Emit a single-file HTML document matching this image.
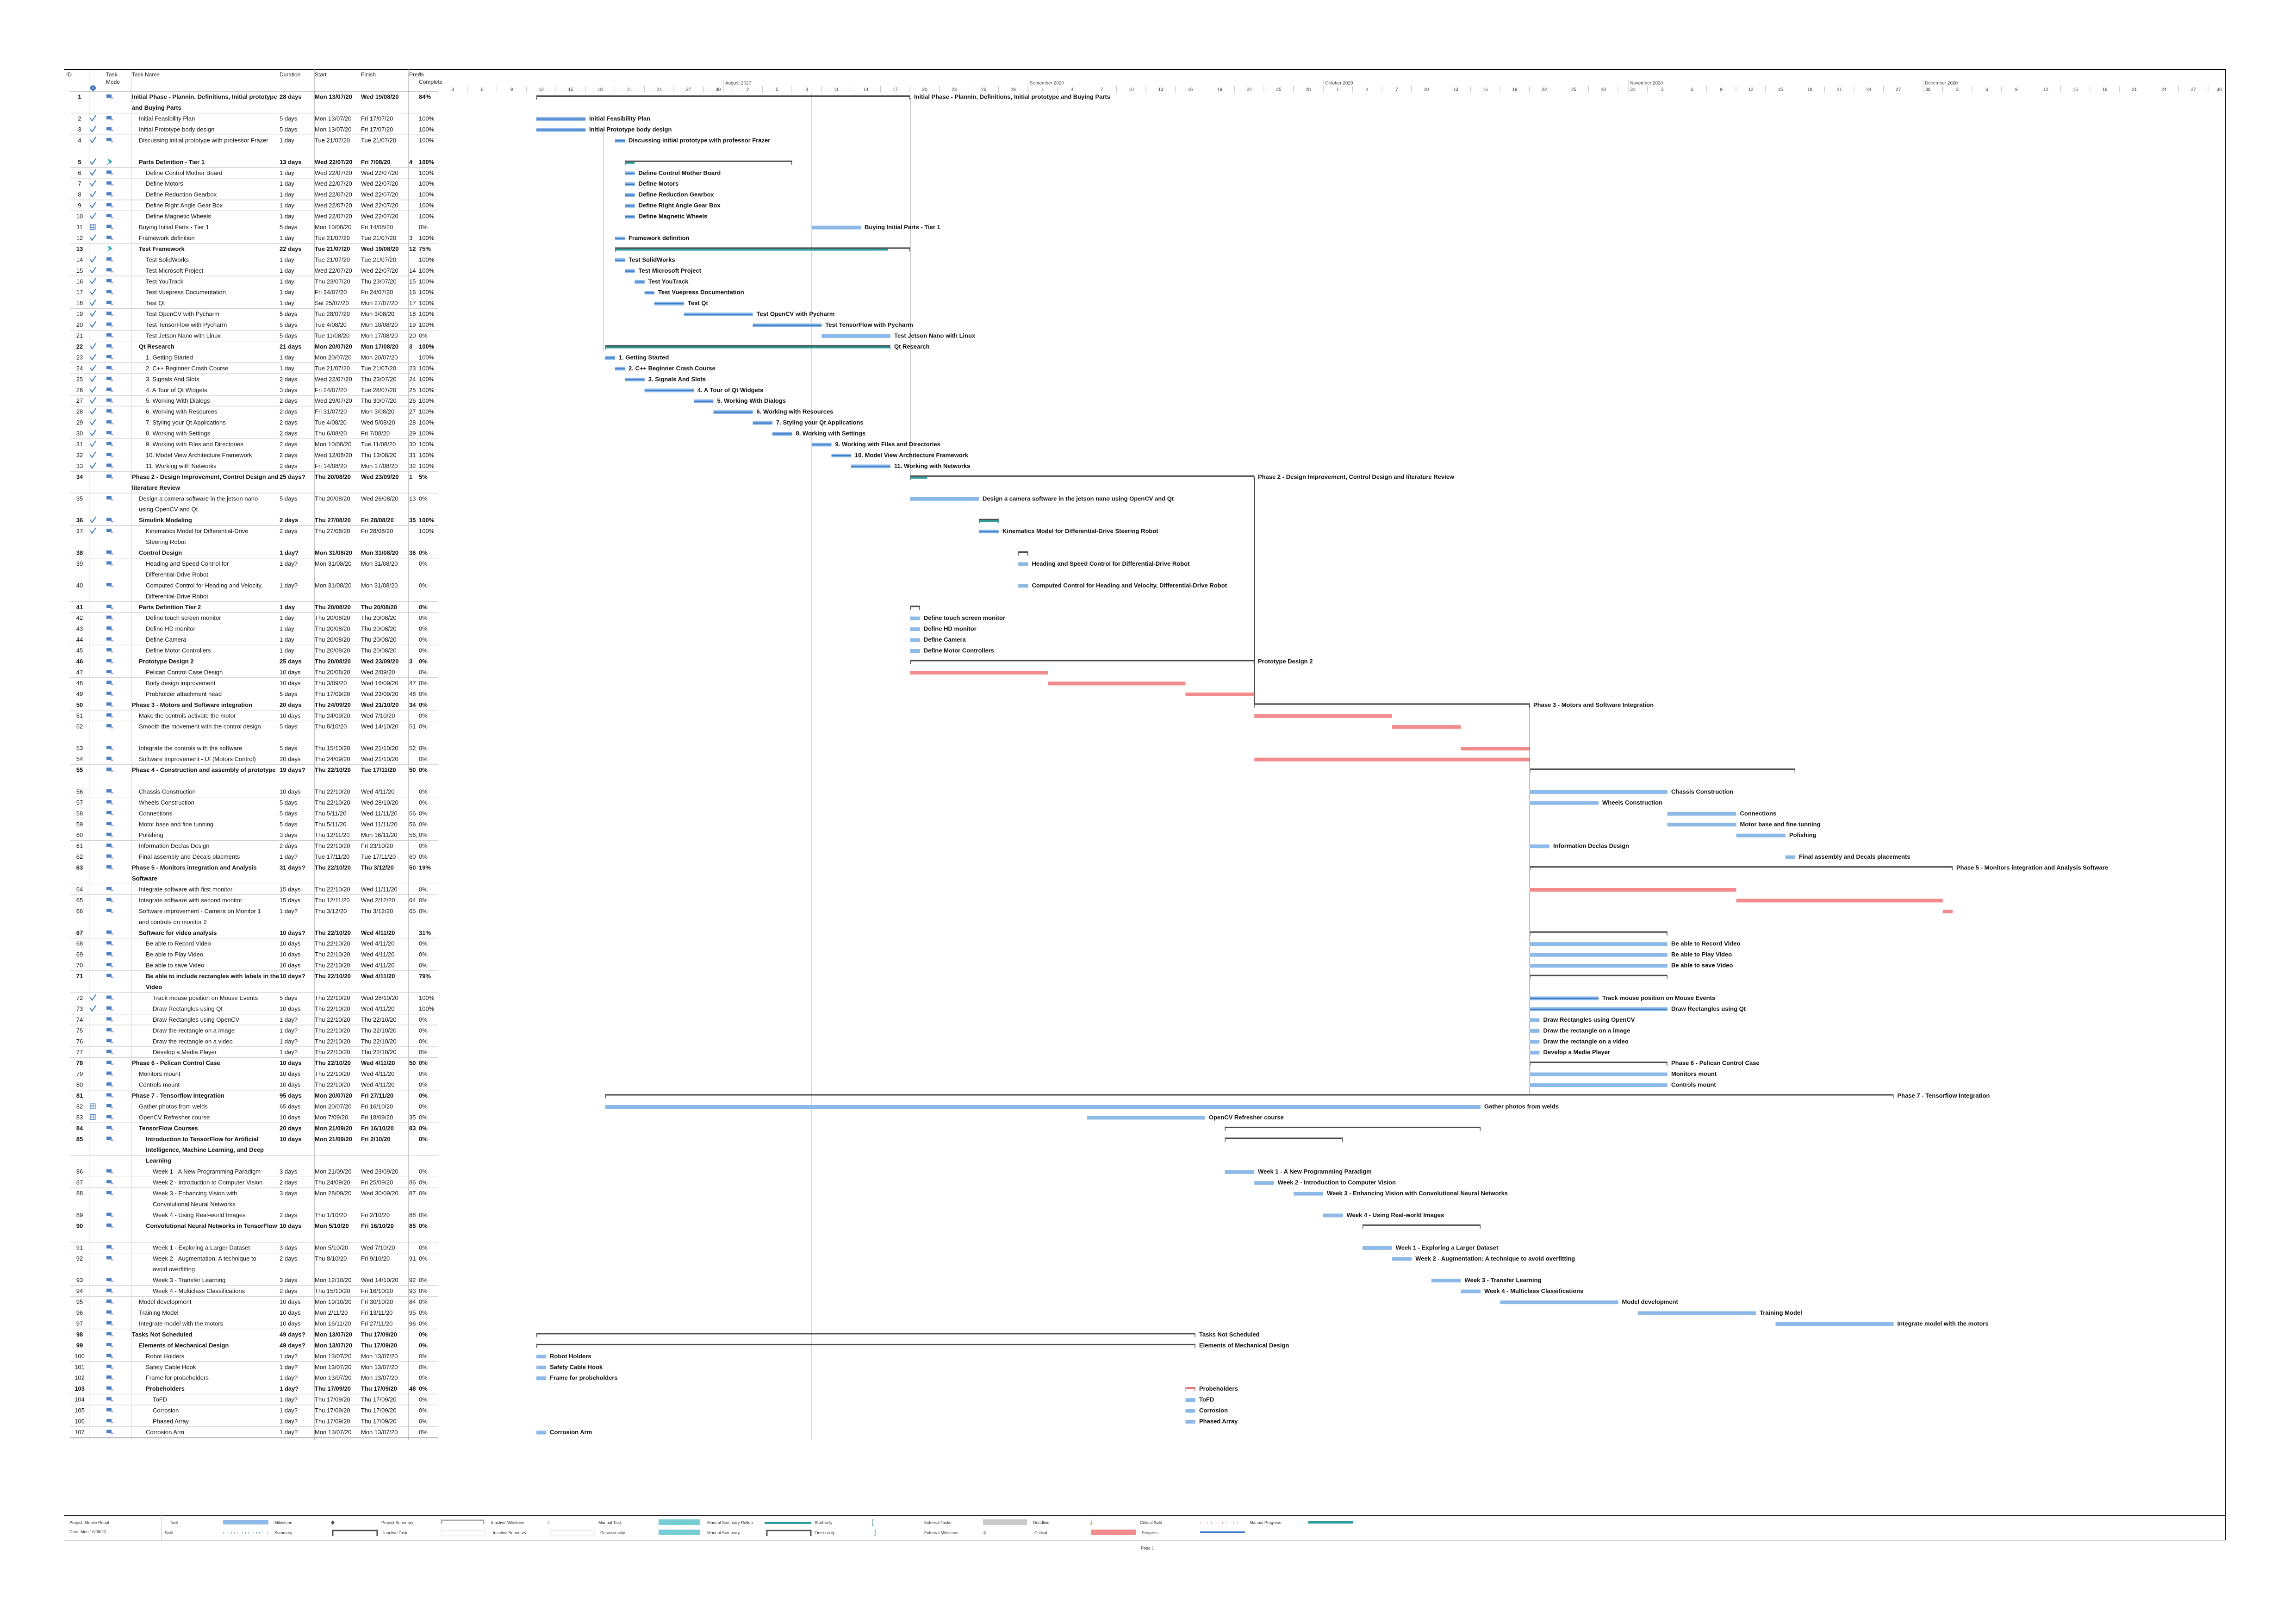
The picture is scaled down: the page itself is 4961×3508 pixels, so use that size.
<!DOCTYPE html>
<html><head><meta charset="utf-8"><style>
html,body{margin:0;padding:0;background:#fff}
svg{display:block}
text{font-family:"Liberation Sans Narrow","Liberation Sans",sans-serif;font-size:13px;fill:#111;dominant-baseline:central}
.B text{font-weight:bold}
.lb{font-weight:bold}
.hd{font-size:12px;fill:#222}
.tl{font-size:10px;fill:#444;text-anchor:middle}
.ml{font-size:10px;fill:#444}
.lg{font-size:9px;fill:#333}
.tb{fill:#8db9e8}.pg{fill:#3d7cc9}.cr{fill:#f28b8b}.sb{fill:#4d4d4d}.sp{fill:#2f9d9d}
.id{text-anchor:middle}
</style></head><body>
<svg width="4961" height="3508" viewBox="0 0 4961 3508" xmlns="http://www.w3.org/2000/svg">
<defs>
<g id="md"><rect x="-7" y="-5" width="11" height="7" fill="#4f7fbf"/><path d="M2 1 L5 4 L8 1" stroke="#4f7fbf" stroke-width="1.3" fill="none"/></g>
<path id="ck" d="M-6 -1 L-2 5 L6 -7" stroke="#3f74b8" stroke-width="2" fill="none"/>
<path id="pn" d="M-5 6 L-1 1 M-3 -6 L5 -1 L0 3 Z" fill="#2ab0b0" stroke="#2ab0b0" stroke-width="1.2"/>
<g id="cl"><rect x="-6" y="-6" width="11" height="11" fill="#fff" stroke="#3f74b8"/><path d="M-6 -2.5 H5 M-6 1 H5 M-2.5 -6 V5 M1 -6 V5" stroke="#3f74b8" stroke-width="0.8"/></g>
</defs>

<!-- frame -->
<rect x="139" y="149" width="4670" height="2" fill="#000"/>
<rect x="4808" y="150" width="1.5" height="3178" fill="#000"/>
<rect x="139" y="3272" width="4670" height="2" fill="#000"/>
<rect x="139" y="3327" width="4670" height="1" fill="#ccc"/>
<rect x="348" y="3273" width="1" height="54" fill="#ccc"/>

<!-- table grid -->
<g fill="#c4c4c4">
<rect x="192" y="150" width="1" height="2960" fill="#888"/>
<rect x="283" y="150" width="1" height="2960"/>
<rect x="679" y="150" width="1" height="2960"/>
<rect x="882" y="150" width="1" height="2960"/>
<rect x="946" y="150" width="1" height="2960"/>
<rect x="151" y="3105" width="795" height="1.5" fill="#999"/>
</g>
<path stroke="#cfcfcf" stroke-width="1.2" d="M151 244.3H946 M151 291.2H946 M151 361.5H946 M151 384.9H946 M151 431.9H946 M151 455.3H946 M151 525.7H946 M151 596H946 M151 666.4H946 M151 713.3H946 M151 736.7H946 M151 783.6H946 M151 807.1H946 M151 854H946 M151 877.4H946 M151 947.8H946 M151 1018.2H946 M151 1065.1H946 M151 1135.4H946 M151 1205.7H946 M151 1299.6H946 M151 1323H946 M151 1393.3H946 M151 1463.7H946 M151 1534H946 M151 1557.5H946 M151 1651.3H946 M151 1721.6H946 M151 1815.5H946 M151 1909.3H946 M151 1932.7H946 M151 2026.5H946 M151 2096.9H946 M151 2143.8H946 M151 2190.6H946 M151 2214.1H946 M151 2261H946 M151 2284.5H946 M151 2354.8H946 M151 2425.2H946 M151 2495.5H946 M151 2542.4H946 M151 2565.9H946 M151 2683.1H946 M151 2706.6H946 M151 2776.9H946 M151 2800.3H946 M151 2870.7H946 M151 2941H946 M151 3011.4H946 M151 3034.8H946 M151 3081.8H946"/>
<path stroke="#888" stroke-width="1" d="M151 197H946"/>

<!-- table header -->
<g class="hd">
<text x="143" y="161" class="hd">ID</text>
<text x="229" y="161" class="hd">Task</text><text x="229" y="177" class="hd">Mode</text>
<text x="285" y="161" class="hd">Task Name</text>
<text x="604" y="161" class="hd">Duration</text>
<text x="680" y="161" class="hd">Start</text>
<text x="780" y="161" class="hd">Finish</text>
<text x="884" y="161" class="hd">Pred</text>
<text x="905" y="161" class="hd">%</text><text x="905" y="177" class="hd">Complete</text>
</g>
<circle cx="201" cy="190" r="6" fill="#3f74b8"/><text x="201" y="190" style="font-size:10px;fill:#fff;font-weight:bold;text-anchor:middle">i</text>

<!-- timescale -->
<text x="1567" y="180" class="ml">August 2020</text>
<text x="2225" y="180" class="ml">September 2020</text>
<text x="2863" y="180" class="ml">October 2020</text>
<text x="3522" y="180" class="ml">November 2020</text>
<text x="4159" y="180" class="ml">December 2020</text>
<path stroke="#aaa" stroke-width="1" d="M1562.75 172V200 M2221.5 172V200 M2859 172V200 M3518 172V200 M4155.25 172V200"/>
<path stroke="#bbb" stroke-width="1" d="M1009.75 186V200M1073.5 186V200M1137.25 186V200M1201 186V200M1264.75 186V200M1328.5 186V200M1392.25 186V200M1456 186V200M1519.75 186V200M1583.5 186V200M1647.25 186V200M1711 186V200M1774.75 186V200M1838.5 186V200M1902.25 186V200M1966 186V200M2029.75 186V200M2093.5 186V200M2157.25 186V200M2221 186V200M2284.75 186V200M2348.5 186V200M2412.25 186V200M2476 186V200M2539.75 186V200M2603.5 186V200M2667.25 186V200M2731 186V200M2794.75 186V200M2858.5 186V200M2922.25 186V200M2986 186V200M3049.75 186V200M3113.5 186V200M3177.25 186V200M3241 186V200M3304.75 186V200M3368.5 186V200M3432.25 186V200M3496 186V200M3559.75 186V200M3623.5 186V200M3687.25 186V200M3751 186V200M3814.75 186V200M3878.5 186V200M3942.25 186V200M4006 186V200M4069.75 186V200M4133.5 186V200M4197.25 186V200M4261 186V200M4324.75 186V200M4388.5 186V200M4452.25 186V200M4516 186V200M4579.75 186V200M4643.5 186V200M4707.25 186V200M4771 186V200"/>
<g>
<text class="tl" x="978" y="194">3</text><text class="tl" x="1041.75" y="194">6</text><text class="tl" x="1105.5" y="194">9</text><text class="tl" x="1169.25" y="194">12</text><text class="tl" x="1233" y="194">15</text><text class="tl" x="1296.75" y="194">18</text><text class="tl" x="1360.5" y="194">21</text><text class="tl" x="1424.25" y="194">24</text><text class="tl" x="1488" y="194">27</text><text class="tl" x="1551.75" y="194">30</text>
<text class="tl" x="1615.5" y="194">2</text><text class="tl" x="1679.25" y="194">5</text><text class="tl" x="1743" y="194">8</text><text class="tl" x="1806.75" y="194">11</text><text class="tl" x="1870.5" y="194">14</text><text class="tl" x="1934.25" y="194">17</text><text class="tl" x="1998" y="194">20</text><text class="tl" x="2061.75" y="194">23</text><text class="tl" x="2125.5" y="194">26</text><text class="tl" x="2189.25" y="194">29</text>
<text class="tl" x="2253" y="194">1</text><text class="tl" x="2316.75" y="194">4</text><text class="tl" x="2380.5" y="194">7</text><text class="tl" x="2444.25" y="194">10</text><text class="tl" x="2508" y="194">13</text><text class="tl" x="2571.75" y="194">16</text><text class="tl" x="2635.5" y="194">19</text><text class="tl" x="2699.25" y="194">22</text><text class="tl" x="2763" y="194">25</text><text class="tl" x="2826.75" y="194">28</text>
<text class="tl" x="2890.5" y="194">1</text><text class="tl" x="2954.25" y="194">4</text><text class="tl" x="3018" y="194">7</text><text class="tl" x="3081.75" y="194">10</text><text class="tl" x="3145.5" y="194">13</text><text class="tl" x="3209.25" y="194">16</text><text class="tl" x="3273" y="194">19</text><text class="tl" x="3336.75" y="194">22</text><text class="tl" x="3400.5" y="194">25</text><text class="tl" x="3464.25" y="194">28</text><text class="tl" x="3528" y="194">31</text>
<text class="tl" x="3591.75" y="194">3</text><text class="tl" x="3655.5" y="194">6</text><text class="tl" x="3719.25" y="194">9</text><text class="tl" x="3783" y="194">12</text><text class="tl" x="3846.75" y="194">15</text><text class="tl" x="3910.5" y="194">18</text><text class="tl" x="3974.25" y="194">21</text><text class="tl" x="4038" y="194">24</text><text class="tl" x="4101.75" y="194">27</text><text class="tl" x="4165.5" y="194">30</text>
<text class="tl" x="4229.25" y="194">3</text><text class="tl" x="4293" y="194">6</text><text class="tl" x="4356.75" y="194">9</text><text class="tl" x="4420.5" y="194">12</text><text class="tl" x="4484.25" y="194">15</text><text class="tl" x="4548" y="194">18</text><text class="tl" x="4611.75" y="194">21</text><text class="tl" x="4675.5" y="194">24</text><text class="tl" x="4739.25" y="194">27</text><text class="tl" x="4795" y="194">30</text>
</g>

<!-- vertical lines in chart -->
<rect x="1753.5" y="200" width="1" height="2910" fill="#8cc07a"/>
<rect x="1966.5" y="212" width="1" height="818" fill="#999"/>
<rect x="1304" y="285" width="1" height="475" fill="#aac"/>
<rect x="2710" y="1030" width="1" height="492" fill="#333"/>
<rect x="3305" y="1523" width="1" height="843" fill="#333"/>

<!-- ROWS -->
<g class="B" transform="translate(0,209.1)"><text class="id" x="172">1</text><use href="#md" x="237"/><text x="285">Initial Phase - Plannin, Definitions, Initial prototype</text><text x="285" y="23.45">and Buying Parts</text><text x="604">28 days</text><text x="680">Mon 13/07/20</text><text x="780">Wed 19/08/20</text><text x="905">84%</text>
<rect class="sb" x="1159" y="-3" width="807.5" height="3"/><rect class="sb" x="1159" y="-3" width="1.5" height="9"/><rect class="sb" x="1965" y="-3" width="1.5" height="9"/><text class="lb" x="1975">Initial Phase - Plannin, Definitions, Initial prototype and Buying Parts</text></g>

<g transform="translate(0,256)"><text class="id" x="172">2</text><use href="#ck" x="201"/><use href="#md" x="237"/><text x="300">Initial Feasibility Plan</text><text x="604">5 days</text><text x="680">Mon 13/07/20</text><text x="780">Fri 17/07/20</text><text x="905">100%</text><rect class="tb" x="1159" y="-3" width="106.25" height="8"/><rect class="pg" x="1159" y="0" width="106.25" height="2.5"/><text class="lb" x="1273">Initial Feasibility Plan</text></g>
<g transform="translate(0,279.5)"><text class="id" x="172">3</text><use href="#ck" x="201"/><use href="#md" x="237"/><text x="300">Initial Prototype body design</text><text x="604">5 days</text><text x="680">Mon 13/07/20</text><text x="780">Fri 17/07/20</text><text x="905">100%</text><rect class="tb" x="1159" y="-3" width="106.25" height="8"/><rect class="pg" x="1159" y="0" width="106.25" height="2.5"/><text class="lb" x="1273">Initial Prototype body design</text></g>
<g transform="translate(0,302.9)"><text class="id" x="172">4</text><use href="#ck" x="201"/><use href="#md" x="237"/><text x="300">Discussing initial prototype with professor Frazer</text><text x="604">1 day</text><text x="680">Tue 21/07/20</text><text x="780">Tue 21/07/20</text><text x="905">100%</text><rect class="tb" x="1329" y="-3" width="21.25" height="8"/><rect class="pg" x="1329" y="0" width="21.25" height="2.5"/><text class="lb" x="1358">Discussing initial prototype with professor Frazer</text></g>
<g class="B" transform="translate(0,349.8)"><text class="id" x="172">5</text><use href="#ck" x="201"/><use href="#pn" x="237"/><text x="300">Parts Definition - Tier 1</text><text x="604">13 days</text><text x="680">Wed 22/07/20</text><text x="780">Fri 7/08/20</text><text x="884">4</text><text x="905">100%</text><rect class="sb" x="1350.25" y="-3" width="361.25" height="3"/><rect class="sb" x="1350.25" y="-3" width="1.5" height="9"/><rect class="sb" x="1710" y="-3" width="1.5" height="9"/><rect class="sp" x="1350.25" y="0" width="21" height="4"/></g>
<g transform="translate(0,373.3)"><text class="id" x="172">6</text><use href="#ck" x="201"/><use href="#md" x="237"/><text x="315">Define Control Mother Board</text><text x="604">1 day</text><text x="680">Wed 22/07/20</text><text x="780">Wed 22/07/20</text><text x="905">100%</text><rect class="tb" x="1350.25" y="-3" width="21.25" height="8"/><rect class="pg" x="1350.25" y="0" width="21.25" height="2.5"/><text class="lb" x="1379.5">Define Control Mother Board</text></g>
<g transform="translate(0,396.7)"><text class="id" x="172">7</text><use href="#ck" x="201"/><use href="#md" x="237"/><text x="315">Define Motors</text><text x="604">1 day</text><text x="680">Wed 22/07/20</text><text x="780">Wed 22/07/20</text><text x="905">100%</text><rect class="tb" x="1350.25" y="-3" width="21.25" height="8"/><rect class="pg" x="1350.25" y="0" width="21.25" height="2.5"/><text class="lb" x="1379.5">Define Motors</text></g>
<g transform="translate(0,420.2)"><text class="id" x="172">8</text><use href="#ck" x="201"/><use href="#md" x="237"/><text x="315">Define Reduction Gearbox</text><text x="604">1 day</text><text x="680">Wed 22/07/20</text><text x="780">Wed 22/07/20</text><text x="905">100%</text><rect class="tb" x="1350.25" y="-3" width="21.25" height="8"/><rect class="pg" x="1350.25" y="0" width="21.25" height="2.5"/><text class="lb" x="1379.5">Define Reduction Gearbox</text></g>
<g transform="translate(0,443.6)"><text class="id" x="172">9</text><use href="#ck" x="201"/><use href="#md" x="237"/><text x="315">Define Right Angle Gear Box</text><text x="604">1 day</text><text x="680">Wed 22/07/20</text><text x="780">Wed 22/07/20</text><text x="905">100%</text><rect class="tb" x="1350.25" y="-3" width="21.25" height="8"/><rect class="pg" x="1350.25" y="0" width="21.25" height="2.5"/><text class="lb" x="1379.5">Define Right Angle Gear Box</text></g>
<g transform="translate(0,467.1)"><text class="id" x="172">10</text><use href="#ck" x="201"/><use href="#md" x="237"/><text x="315">Define Magnetic Wheels</text><text x="604">1 day</text><text x="680">Wed 22/07/20</text><text x="780">Wed 22/07/20</text><text x="905">100%</text><rect class="tb" x="1350.25" y="-3" width="21.25" height="8"/><rect class="pg" x="1350.25" y="0" width="21.25" height="2.5"/><text class="lb" x="1379.5">Define Magnetic Wheels</text></g>
<g transform="translate(0,490.5)"><text class="id" x="172">11</text><use href="#cl" x="201"/><use href="#md" x="237"/><text x="300">Buying Initial Parts - Tier 1</text><text x="604">5 days</text><text x="680">Mon 10/08/20</text><text x="780">Fri 14/08/20</text><text x="905">0%</text><rect class="tb" x="1754" y="-3" width="106.25" height="8"/><text class="lb" x="1868">Buying Initial Parts - Tier 1</text></g>
<g transform="translate(0,514)"><text class="id" x="172">12</text><use href="#ck" x="201"/><use href="#md" x="237"/><text x="300">Framework definition</text><text x="604">1 day</text><text x="680">Tue 21/07/20</text><text x="780">Tue 21/07/20</text><text x="884">3</text><text x="905">100%</text><rect class="tb" x="1329" y="-3" width="21.25" height="8"/><rect class="pg" x="1329" y="0" width="21.25" height="2.5"/><text class="lb" x="1358">Framework definition</text></g>
<g class="B" transform="translate(0,537.4)"><text class="id" x="172">13</text><use href="#pn" x="237"/><text x="300">Test Framework</text><text x="604">22 days</text><text x="680">Tue 21/07/20</text><text x="780">Wed 19/08/20</text><text x="884">12</text><text x="905">75%</text><rect class="sb" x="1329" y="-3" width="637.5" height="3"/><rect class="sb" x="1329" y="-3" width="1.5" height="9"/><rect class="sb" x="1965" y="-3" width="1.5" height="9"/><rect class="sp" x="1329" y="0" width="590" height="4"/></g>
<g transform="translate(0,560.9)"><text class="id" x="172">14</text><use href="#ck" x="201"/><use href="#md" x="237"/><text x="315">Test SolidWorks</text><text x="604">1 day</text><text x="680">Tue 21/07/20</text><text x="780">Tue 21/07/20</text><text x="905">100%</text><rect class="tb" x="1329" y="-3" width="21.25" height="8"/><rect class="pg" x="1329" y="0" width="21.25" height="2.5"/><text class="lb" x="1358">Test SolidWorks</text></g>
<g transform="translate(0,584.3)"><text class="id" x="172">15</text><use href="#ck" x="201"/><use href="#md" x="237"/><text x="315">Test Microsoft Project</text><text x="604">1 day</text><text x="680">Wed 22/07/20</text><text x="780">Wed 22/07/20</text><text x="884">14</text><text x="905">100%</text><rect class="tb" x="1350.25" y="-3" width="21.25" height="8"/><rect class="pg" x="1350.25" y="0" width="21.25" height="2.5"/><text class="lb" x="1379.5">Test Microsoft Project</text></g>
<g transform="translate(0,607.8)"><text class="id" x="172">16</text><use href="#ck" x="201"/><use href="#md" x="237"/><text x="315">Test YouTrack</text><text x="604">1 day</text><text x="680">Thu 23/07/20</text><text x="780">Thu 23/07/20</text><text x="884">15</text><text x="905">100%</text><rect class="tb" x="1371.5" y="-3" width="21.25" height="8"/><rect class="pg" x="1371.5" y="0" width="21.25" height="2.5"/><text class="lb" x="1400.75">Test YouTrack</text></g>
<g transform="translate(0,631.2)"><text class="id" x="172">17</text><use href="#ck" x="201"/><use href="#md" x="237"/><text x="315">Test Vuepress Documentation</text><text x="604">1 day</text><text x="680">Fri 24/07/20</text><text x="780">Fri 24/07/20</text><text x="884">16</text><text x="905">100%</text><rect class="tb" x="1392.75" y="-3" width="21.25" height="8"/><rect class="pg" x="1392.75" y="0" width="21.25" height="2.5"/><text class="lb" x="1422">Test Vuepress Documentation</text></g>
<g transform="translate(0,654.7)"><text class="id" x="172">18</text><use href="#ck" x="201"/><use href="#md" x="237"/><text x="315">Test Qt</text><text x="604">1 day</text><text x="680">Sat 25/07/20</text><text x="780">Mon 27/07/20</text><text x="884">17</text><text x="905">100%</text><rect class="tb" x="1414" y="-3" width="63.75" height="8"/><rect class="pg" x="1414" y="0" width="63.75" height="2.5"/><text class="lb" x="1486">Test Qt</text></g>
<g transform="translate(0,678.1)"><text class="id" x="172">19</text><use href="#ck" x="201"/><use href="#md" x="237"/><text x="315">Test OpenCV with Pycharm</text><text x="604">5 days</text><text x="680">Tue 28/07/20</text><text x="780">Mon 3/08/20</text><text x="884">18</text><text x="905">100%</text><rect class="tb" x="1477.75" y="-3" width="148.75" height="8"/><rect class="pg" x="1477.75" y="0" width="148.75" height="2.5"/><text class="lb" x="1634.5">Test OpenCV with Pycharm</text></g>
<g transform="translate(0,701.6)"><text class="id" x="172">20</text><use href="#ck" x="201"/><use href="#md" x="237"/><text x="315">Test TensorFlow with Pycharm</text><text x="604">5 days</text><text x="680">Tue 4/08/20</text><text x="780">Mon 10/08/20</text><text x="884">19</text><text x="905">100%</text><rect class="tb" x="1626.5" y="-3" width="148.75" height="8"/><rect class="pg" x="1626.5" y="0" width="148.75" height="2.5"/><text class="lb" x="1783.25">Test TensorFlow with Pycharm</text></g>
<g transform="translate(0,725)"><text class="id" x="172">21</text><use href="#md" x="237"/><text x="315">Test Jetson Nano with Linux</text><text x="604">5 days</text><text x="680">Tue 11/08/20</text><text x="780">Mon 17/08/20</text><text x="884">20</text><text x="905">0%</text><rect class="tb" x="1775.25" y="-3" width="148.75" height="8"/><text class="lb" x="1932">Test Jetson Nano with Linux</text></g>
<g class="B" transform="translate(0,748.5)"><text class="id" x="172">22</text><use href="#ck" x="201"/><use href="#md" x="237"/><text x="300">Qt Research</text><text x="604">21 days</text><text x="680">Mon 20/07/20</text><text x="780">Mon 17/08/20</text><text x="884">3</text><text x="905">100%</text><rect class="sb" x="1307.75" y="-3" width="616.25" height="3"/><rect class="sb" x="1307.75" y="-3" width="1.5" height="9"/><rect class="sb" x="1922.5" y="-3" width="1.5" height="9"/><rect class="sp" x="1307.75" y="0" width="616.25" height="4"/><text class="lb" x="1932">Qt Research</text></g>
<g transform="translate(0,771.9)"><text class="id" x="172">23</text><use href="#ck" x="201"/><use href="#md" x="237"/><text x="315">1. Getting Started</text><text x="604">1 day</text><text x="680">Mon 20/07/20</text><text x="780">Mon 20/07/20</text><text x="905">100%</text><rect class="tb" x="1307.75" y="-3" width="21.25" height="8"/><rect class="pg" x="1307.75" y="0" width="21.25" height="2.5"/><text class="lb" x="1337">1. Getting Started</text></g>
<g transform="translate(0,795.4)"><text class="id" x="172">24</text><use href="#ck" x="201"/><use href="#md" x="237"/><text x="315">2. C++ Beginner Crash Course</text><text x="604">1 day</text><text x="680">Tue 21/07/20</text><text x="780">Tue 21/07/20</text><text x="884">23</text><text x="905">100%</text><rect class="tb" x="1329" y="-3" width="21.25" height="8"/><rect class="pg" x="1329" y="0" width="21.25" height="2.5"/><text class="lb" x="1358">2. C++ Beginner Crash Course</text></g>
<g transform="translate(0,818.8)"><text class="id" x="172">25</text><use href="#ck" x="201"/><use href="#md" x="237"/><text x="315">3. Signals And Slots</text><text x="604">2 days</text><text x="680">Wed 22/07/20</text><text x="780">Thu 23/07/20</text><text x="884">24</text><text x="905">100%</text><rect class="tb" x="1350.25" y="-3" width="42.5" height="8"/><rect class="pg" x="1350.25" y="0" width="42.5" height="2.5"/><text class="lb" x="1400.75">3. Signals And Slots</text></g>
<g transform="translate(0,842.3)"><text class="id" x="172">26</text><use href="#ck" x="201"/><use href="#md" x="237"/><text x="315">4. A Tour of Qt Widgets</text><text x="604">3 days</text><text x="680">Fri 24/07/20</text><text x="780">Tue 28/07/20</text><text x="884">25</text><text x="905">100%</text><rect class="tb" x="1392.75" y="-3" width="106.25" height="8"/><rect class="pg" x="1392.75" y="0" width="106.25" height="2.5"/><text class="lb" x="1507">4. A Tour of Qt Widgets</text></g>
<g transform="translate(0,865.7)"><text class="id" x="172">27</text><use href="#ck" x="201"/><use href="#md" x="237"/><text x="315">5. Working With Dialogs</text><text x="604">2 days</text><text x="680">Wed 29/07/20</text><text x="780">Thu 30/07/20</text><text x="884">26</text><text x="905">100%</text><rect class="tb" x="1499" y="-3" width="42.5" height="8"/><rect class="pg" x="1499" y="0" width="42.5" height="2.5"/><text class="lb" x="1549.5">5. Working With Dialogs</text></g>
<g transform="translate(0,889.2)"><text class="id" x="172">28</text><use href="#ck" x="201"/><use href="#md" x="237"/><text x="315">6. Working with Resources</text><text x="604">2 days</text><text x="680">Fri 31/07/20</text><text x="780">Mon 3/08/20</text><text x="884">27</text><text x="905">100%</text><rect class="tb" x="1541.5" y="-3" width="85" height="8"/><rect class="pg" x="1541.5" y="0" width="85" height="2.5"/><text class="lb" x="1634.5">6. Working with Resources</text></g>
<g transform="translate(0,912.6)"><text class="id" x="172">29</text><use href="#ck" x="201"/><use href="#md" x="237"/><text x="315">7. Styling your Qt Applications</text><text x="604">2 days</text><text x="680">Tue 4/08/20</text><text x="780">Wed 5/08/20</text><text x="884">28</text><text x="905">100%</text><rect class="tb" x="1626.5" y="-3" width="42.5" height="8"/><rect class="pg" x="1626.5" y="0" width="42.5" height="2.5"/><text class="lb" x="1677">7. Styling your Qt Applications</text></g>
<g transform="translate(0,936.1)"><text class="id" x="172">30</text><use href="#ck" x="201"/><use href="#md" x="237"/><text x="315">8. Working with Settings</text><text x="604">2 days</text><text x="680">Thu 6/08/20</text><text x="780">Fri 7/08/20</text><text x="884">29</text><text x="905">100%</text><rect class="tb" x="1669" y="-3" width="42.5" height="8"/><rect class="pg" x="1669" y="0" width="42.5" height="2.5"/><text class="lb" x="1719.5">8. Working with Settings</text></g>
<g transform="translate(0,959.5)"><text class="id" x="172">31</text><use href="#ck" x="201"/><use href="#md" x="237"/><text x="315">9. Working with Files and Directories</text><text x="604">2 days</text><text x="680">Mon 10/08/20</text><text x="780">Tue 11/08/20</text><text x="884">30</text><text x="905">100%</text><rect class="tb" x="1754" y="-3" width="42.5" height="8"/><rect class="pg" x="1754" y="0" width="42.5" height="2.5"/><text class="lb" x="1804.5">9. Working with Files and Directories</text></g>
<g transform="translate(0,983)"><text class="id" x="172">32</text><use href="#ck" x="201"/><use href="#md" x="237"/><text x="315">10. Model View Architecture Framework</text><text x="604">2 days</text><text x="680">Wed 12/08/20</text><text x="780">Thu 13/08/20</text><text x="884">31</text><text x="905">100%</text><rect class="tb" x="1796.5" y="-3" width="42.5" height="8"/><rect class="pg" x="1796.5" y="0" width="42.5" height="2.5"/><text class="lb" x="1847">10. Model View Architecture Framework</text></g>
<g transform="translate(0,1006.4)"><text class="id" x="172">33</text><use href="#ck" x="201"/><use href="#md" x="237"/><text x="315">11. Working with Networks</text><text x="604">2 days</text><text x="680">Fri 14/08/20</text><text x="780">Mon 17/08/20</text><text x="884">32</text><text x="905">100%</text><rect class="tb" x="1839" y="-3" width="85" height="8"/><rect class="pg" x="1839" y="0" width="85" height="2.5"/><text class="lb" x="1932">11. Working with Networks</text></g>
<g class="B" transform="translate(0,1029.9)"><text class="id" x="172">34</text><use href="#md" x="237"/><text x="285">Phase 2 - Design Improvement, Control Design and</text><text x="285" y="23.45">literature Review</text><text x="604">25 days?</text><text x="680">Thu 20/08/20</text><text x="780">Wed 23/09/20</text><text x="884">1</text><text x="905">5%</text><rect class="sb" x="1966.5" y="-3" width="743.75" height="3"/><rect class="sb" x="1966.5" y="-3" width="1.5" height="9"/><rect class="sb" x="2708.75" y="-3" width="1.5" height="9"/><rect class="sp" x="1966.5" y="0" width="37" height="4"/><text class="lb" x="2718">Phase 2 - Design Improvement, Control Design and literature Review</text></g>
<g transform="translate(0,1076.8)"><text class="id" x="172">35</text><use href="#md" x="237"/><text x="300">Design a camera software in the jetson nano</text><text x="300" y="23.45">using OpenCV and Qt</text><text x="604">5 days</text><text x="680">Thu 20/08/20</text><text x="780">Wed 26/08/20</text><text x="884">13</text><text x="905">0%</text><rect class="tb" x="1966.5" y="-3" width="148.75" height="8"/><text class="lb" x="2123">Design a camera software in the jetson nano using OpenCV and Qt</text></g>
<g class="B" transform="translate(0,1123.7)"><text class="id" x="172">36</text><use href="#ck" x="201"/><use href="#md" x="237"/><text x="300">Simulink Modeling</text><text x="604">2 days</text><text x="680">Thu 27/08/20</text><text x="780">Fri 28/08/20</text><text x="884">35</text><text x="905">100%</text><rect class="sb" x="2115.25" y="-3" width="42.5" height="3"/><rect class="sb" x="2115.25" y="-3" width="1.5" height="9"/><rect class="sb" x="2156.25" y="-3" width="1.5" height="9"/><rect class="sp" x="2115.25" y="0" width="42.5" height="4"/></g>
<g transform="translate(0,1147.1)"><text class="id" x="172">37</text><use href="#ck" x="201"/><use href="#md" x="237"/><text x="315">Kinematics Model for Differential-Drive</text><text x="315" y="23.45">Steering Robot</text><text x="604">2 days</text><text x="680">Thu 27/08/20</text><text x="780">Fri 28/08/20</text><text x="905">100%</text><rect class="tb" x="2115.25" y="-3" width="42.5" height="8"/><rect class="pg" x="2115.25" y="0" width="42.5" height="2.5"/><text class="lb" x="2166">Kinematics Model for Differential-Drive Steering Robot</text></g>
<g class="B" transform="translate(0,1194)"><text class="id" x="172">38</text><use href="#md" x="237"/><text x="300">Control Design</text><text x="604">1 day?</text><text x="680">Mon 31/08/20</text><text x="780">Mon 31/08/20</text><text x="884">36</text><text x="905">0%</text><rect class="sb" x="2200.25" y="-3" width="21.25" height="3"/><rect class="sb" x="2200.25" y="-3" width="1.5" height="9"/><rect class="sb" x="2220" y="-3" width="1.5" height="9"/></g>
<g transform="translate(0,1217.5)"><text class="id" x="172">39</text><use href="#md" x="237"/><text x="315">Heading and Speed Control for</text><text x="315" y="23.45">Differential-Drive Robot</text><text x="604">1 day?</text><text x="680">Mon 31/08/20</text><text x="780">Mon 31/08/20</text><text x="905">0%</text><rect class="tb" x="2200.25" y="-3" width="21.25" height="8"/><text class="lb" x="2229.5">Heading and Speed Control for Differential-Drive Robot</text></g>
<g transform="translate(0,1264.4)"><text class="id" x="172">40</text><use href="#md" x="237"/><text x="315">Computed Control for Heading and Velocity,</text><text x="315" y="23.45">Differential-Drive Robot</text><text x="604">1 day?</text><text x="680">Mon 31/08/20</text><text x="780">Mon 31/08/20</text><text x="905">0%</text><rect class="tb" x="2200.25" y="-3" width="21.25" height="8"/><text class="lb" x="2229.5">Computed Control for Heading and Velocity, Differential-Drive Robot</text></g>
<g class="B" transform="translate(0,1311.3)"><text class="id" x="172">41</text><use href="#md" x="237"/><text x="300">Parts Definition Tier 2</text><text x="604">1 day</text><text x="680">Thu 20/08/20</text><text x="780">Thu 20/08/20</text><text x="905">0%</text><rect class="sb" x="1966.5" y="-3" width="21.25" height="3"/><rect class="sb" x="1966.5" y="-3" width="1.5" height="9"/><rect class="sb" x="1986.25" y="-3" width="1.5" height="9"/></g>
<g transform="translate(0,1334.7)"><text class="id" x="172">42</text><use href="#md" x="237"/><text x="315">Define touch screen monitor</text><text x="604">1 day</text><text x="680">Thu 20/08/20</text><text x="780">Thu 20/08/20</text><text x="905">0%</text><rect class="tb" x="1966.5" y="-3" width="21.25" height="8"/><text class="lb" x="1995.75">Define touch screen monitor</text></g>
<g transform="translate(0,1358.2)"><text class="id" x="172">43</text><use href="#md" x="237"/><text x="315">Define HD monitor</text><text x="604">1 day</text><text x="680">Thu 20/08/20</text><text x="780">Thu 20/08/20</text><text x="905">0%</text><rect class="tb" x="1966.5" y="-3" width="21.25" height="8"/><text class="lb" x="1995.75">Define HD monitor</text></g>
<g transform="translate(0,1381.6)"><text class="id" x="172">44</text><use href="#md" x="237"/><text x="315">Define Camera</text><text x="604">1 day</text><text x="680">Thu 20/08/20</text><text x="780">Thu 20/08/20</text><text x="905">0%</text><rect class="tb" x="1966.5" y="-3" width="21.25" height="8"/><text class="lb" x="1995.75">Define Camera</text></g>
<g transform="translate(0,1405.1)"><text class="id" x="172">45</text><use href="#md" x="237"/><text x="315">Define Motor Controllers</text><text x="604">1 day</text><text x="680">Thu 20/08/20</text><text x="780">Thu 20/08/20</text><text x="905">0%</text><rect class="tb" x="1966.5" y="-3" width="21.25" height="8"/><text class="lb" x="1995.75">Define Motor Controllers</text></g>
<g class="B" transform="translate(0,1428.5)"><text class="id" x="172">46</text><use href="#md" x="237"/><text x="300">Prototype Design 2</text><text x="604">25 days</text><text x="680">Thu 20/08/20</text><text x="780">Wed 23/09/20</text><text x="884">3</text><text x="905">0%</text><rect class="sb" x="1966.5" y="-3" width="743.75" height="3"/><rect class="sb" x="1966.5" y="-3" width="1.5" height="9"/><rect class="sb" x="2708.75" y="-3" width="1.5" height="9"/><text class="lb" x="2718">Prototype Design 2</text></g>
<g transform="translate(0,1452)"><text class="id" x="172">47</text><use href="#md" x="237"/><text x="315">Pelican Control Case Design</text><text x="604">10 days</text><text x="680">Thu 20/08/20</text><text x="780">Wed 2/09/20</text><text x="905">0%</text><rect class="cr" x="1966.5" y="-3" width="297.5" height="8"/></g>
<g transform="translate(0,1475.4)"><text class="id" x="172">48</text><use href="#md" x="237"/><text x="315">Body design improvement</text><text x="604">10 days</text><text x="680">Thu 3/09/20</text><text x="780">Wed 16/09/20</text><text x="884">47</text><text x="905">0%</text><rect class="cr" x="2264" y="-3" width="297.5" height="8"/></g>
<g transform="translate(0,1498.9)"><text class="id" x="172">49</text><use href="#md" x="237"/><text x="315">Probholder attachment head</text><text x="604">5 days</text><text x="680">Thu 17/09/20</text><text x="780">Wed 23/09/20</text><text x="884">48</text><text x="905">0%</text><rect class="cr" x="2561.5" y="-3" width="148.75" height="8"/></g>
<g class="B" transform="translate(0,1522.3)"><text class="id" x="172">50</text><use href="#md" x="237"/><text x="285">Phase 3 - Motors and Software integration</text><text x="604">20 days</text><text x="680">Thu 24/09/20</text><text x="780">Wed 21/10/20</text><text x="884">34</text><text x="905">0%</text><rect class="sb" x="2710.25" y="-3" width="595" height="3"/><rect class="sb" x="2710.25" y="-3" width="1.5" height="9"/><rect class="sb" x="3303.75" y="-3" width="1.5" height="9"/><text class="lb" x="3313">Phase 3 - Motors and Software Integration</text></g>
<g transform="translate(0,1545.8)"><text class="id" x="172">51</text><use href="#md" x="237"/><text x="300">Make the controls activate the motor</text><text x="604">10 days</text><text x="680">Thu 24/09/20</text><text x="780">Wed 7/10/20</text><text x="905">0%</text><rect class="cr" x="2710.25" y="-3" width="297.5" height="8"/></g>
<g transform="translate(0,1569.2)"><text class="id" x="172">52</text><use href="#md" x="237"/><text x="300">Smooth the movement with the control design</text><text x="604">5 days</text><text x="680">Thu 8/10/20</text><text x="780">Wed 14/10/20</text><text x="884">51</text><text x="905">0%</text><rect class="cr" x="3007.75" y="-3" width="148.75" height="8"/></g>
<g transform="translate(0,1616.1)"><text class="id" x="172">53</text><use href="#md" x="237"/><text x="300">Integrate the controls with the software</text><text x="604">5 days</text><text x="680">Thu 15/10/20</text><text x="780">Wed 21/10/20</text><text x="884">52</text><text x="905">0%</text><rect class="cr" x="3156.5" y="-3" width="148.75" height="8"/></g>
<g transform="translate(0,1639.6)"><text class="id" x="172">54</text><use href="#md" x="237"/><text x="300">Software Improvement - UI (Motors Control)</text><text x="604">20 days</text><text x="680">Thu 24/09/20</text><text x="780">Wed 21/10/20</text><text x="905">0%</text><rect class="cr" x="2710.25" y="-3" width="595" height="8"/></g>
<g class="B" transform="translate(0,1663)"><text class="id" x="172">55</text><use href="#md" x="237"/><text x="285">Phase 4 - Construction and assembly of prototype</text><text x="604">19 days?</text><text x="680">Thu 22/10/20</text><text x="780">Tue 17/11/20</text><text x="884">50</text><text x="905">0%</text><rect class="sb" x="3305.25" y="-3" width="573.75" height="3"/><rect class="sb" x="3305.25" y="-3" width="1.5" height="9"/><rect class="sb" x="3877.5" y="-3" width="1.5" height="9"/></g>
<g transform="translate(0,1709.9)"><text class="id" x="172">56</text><use href="#md" x="237"/><text x="300">Chassis Construction</text><text x="604">10 days</text><text x="680">Thu 22/10/20</text><text x="780">Wed 4/11/20</text><text x="905">0%</text><rect class="tb" x="3305.25" y="-3" width="297.5" height="8"/><text class="lb" x="3611">Chassis Construction</text></g>
<g transform="translate(0,1733.4)"><text class="id" x="172">57</text><use href="#md" x="237"/><text x="300">Wheels Construction</text><text x="604">5 days</text><text x="680">Thu 22/10/20</text><text x="780">Wed 28/10/20</text><text x="905">0%</text><rect class="tb" x="3305.25" y="-3" width="148.75" height="8"/><text class="lb" x="3462">Wheels Construction</text></g>
<g transform="translate(0,1756.8)"><text class="id" x="172">58</text><use href="#md" x="237"/><text x="300">Connections</text><text x="604">5 days</text><text x="680">Thu 5/11/20</text><text x="780">Wed 11/11/20</text><text x="884">56</text><text x="905">0%</text><rect class="tb" x="3602.75" y="-3" width="148.75" height="8"/><text class="lb" x="3759.5">Connections</text></g>
<g transform="translate(0,1780.3)"><text class="id" x="172">59</text><use href="#md" x="237"/><text x="300">Motor base and fine tunning</text><text x="604">5 days</text><text x="680">Thu 5/11/20</text><text x="780">Wed 11/11/20</text><text x="884">56</text><text x="905">0%</text><rect class="tb" x="3602.75" y="-3" width="148.75" height="8"/><text class="lb" x="3759.5">Motor base and fine tunning</text></g>
<g transform="translate(0,1803.7)"><text class="id" x="172">60</text><use href="#md" x="237"/><text x="300">Polishing</text><text x="604">3 days</text><text x="680">Thu 12/11/20</text><text x="780">Mon 16/11/20</text><text x="884">56,</text><text x="905">0%</text><rect class="tb" x="3751.5" y="-3" width="106.25" height="8"/><text class="lb" x="3866">Polishing</text></g>
<g transform="translate(0,1827.2)"><text class="id" x="172">61</text><use href="#md" x="237"/><text x="300">Information Declas Design</text><text x="604">2 days</text><text x="680">Thu 22/10/20</text><text x="780">Fri 23/10/20</text><text x="905">0%</text><rect class="tb" x="3305.25" y="-3" width="42.5" height="8"/><text class="lb" x="3356">Information Declas Design</text></g>
<g transform="translate(0,1850.6)"><text class="id" x="172">62</text><use href="#md" x="237"/><text x="300">Final assembly and Decals placments</text><text x="604">1 day?</text><text x="680">Tue 17/11/20</text><text x="780">Tue 17/11/20</text><text x="884">60</text><text x="905">0%</text><rect class="tb" x="3857.75" y="-3" width="21.25" height="8"/><text class="lb" x="3887">Final assembly and Decals placements</text></g>
<g class="B" transform="translate(0,1874.1)"><text class="id" x="172">63</text><use href="#md" x="237"/><text x="285">Phase 5 - Monitors integration and Analysis</text><text x="285" y="23.45">Software</text><text x="604">31 days?</text><text x="680">Thu 22/10/20</text><text x="780">Thu 3/12/20</text><text x="884">50</text><text x="905">19%</text><rect class="sb" x="3305.25" y="-3" width="913.75" height="3"/><rect class="sb" x="3305.25" y="-3" width="1.5" height="9"/><rect class="sb" x="4217.5" y="-3" width="1.5" height="9"/><text class="lb" x="4227">Phase 5 - Monitors integration and Analysis Software</text></g>
<g transform="translate(0,1921)"><text class="id" x="172">64</text><use href="#md" x="237"/><text x="300">Integrate software with first monitor</text><text x="604">15 days</text><text x="680">Thu 22/10/20</text><text x="780">Wed 11/11/20</text><text x="905">0%</text><rect class="cr" x="3305.25" y="-3" width="446.25" height="8"/></g>
<g transform="translate(0,1944.4)"><text class="id" x="172">65</text><use href="#md" x="237"/><text x="300">Integrate software with second monitor</text><text x="604">15 days</text><text x="680">Thu 12/11/20</text><text x="780">Wed 2/12/20</text><text x="884">64</text><text x="905">0%</text><rect class="cr" x="3751.5" y="-3" width="446.25" height="8"/></g>
<g transform="translate(0,1967.9)"><text class="id" x="172">66</text><use href="#md" x="237"/><text x="300">Software improvement - Camera on Monitor 1</text><text x="300" y="23.45">and controls on monitor 2</text><text x="604">1 day?</text><text x="680">Thu 3/12/20</text><text x="780">Thu 3/12/20</text><text x="884">65</text><text x="905">0%</text><rect class="cr" x="4197.75" y="-3" width="21.25" height="8"/></g>
<g class="B" transform="translate(0,2014.8)"><text class="id" x="172">67</text><use href="#md" x="237"/><text x="300">Software for video analysis</text><text x="604">10 days?</text><text x="680">Thu 22/10/20</text><text x="780">Wed 4/11/20</text><text x="905">31%</text><rect class="sb" x="3305.25" y="-3" width="297.5" height="3"/><rect class="sb" x="3305.25" y="-3" width="1.5" height="9"/><rect class="sb" x="3601.25" y="-3" width="1.5" height="9"/></g>
<g transform="translate(0,2038.2)"><text class="id" x="172">68</text><use href="#md" x="237"/><text x="315">Be able to Record Video</text><text x="604">10 days</text><text x="680">Thu 22/10/20</text><text x="780">Wed 4/11/20</text><text x="905">0%</text><rect class="tb" x="3305.25" y="-3" width="297.5" height="8"/><text class="lb" x="3611">Be able to Record Video</text></g>
<g transform="translate(0,2061.7)"><text class="id" x="172">69</text><use href="#md" x="237"/><text x="315">Be able to Play Video</text><text x="604">10 days</text><text x="680">Thu 22/10/20</text><text x="780">Wed 4/11/20</text><text x="905">0%</text><rect class="tb" x="3305.25" y="-3" width="297.5" height="8"/><text class="lb" x="3611">Be able to Play Video</text></g>
<g transform="translate(0,2085.1)"><text class="id" x="172">70</text><use href="#md" x="237"/><text x="315">Be able to save Video</text><text x="604">10 days</text><text x="680">Thu 22/10/20</text><text x="780">Wed 4/11/20</text><text x="905">0%</text><rect class="tb" x="3305.25" y="-3" width="297.5" height="8"/><text class="lb" x="3611">Be able to save Video</text></g>
<g class="B" transform="translate(0,2108.6)"><text class="id" x="172">71</text><use href="#md" x="237"/><text x="315">Be able to include rectangles with labels in the</text><text x="315" y="23.45">Video</text><text x="604">10 days?</text><text x="680">Thu 22/10/20</text><text x="780">Wed 4/11/20</text><text x="905">79%</text><rect class="sb" x="3305.25" y="-3" width="297.5" height="3"/><rect class="sb" x="3305.25" y="-3" width="1.5" height="9"/><rect class="sb" x="3601.25" y="-3" width="1.5" height="9"/></g>
<g transform="translate(0,2155.5)"><text class="id" x="172">72</text><use href="#ck" x="201"/><use href="#md" x="237"/><text x="330">Track mouse position on Mouse Events</text><text x="604">5 days</text><text x="680">Thu 22/10/20</text><text x="780">Wed 28/10/20</text><text x="905">100%</text><rect class="tb" x="3305.25" y="-3" width="148.75" height="8"/><rect class="pg" x="3305.25" y="0" width="148.75" height="2.5"/><text class="lb" x="3462">Track mouse position on Mouse Events</text></g>
<g transform="translate(0,2178.9)"><text class="id" x="172">73</text><use href="#ck" x="201"/><use href="#md" x="237"/><text x="330">Draw Rectangles using Qt</text><text x="604">10 days</text><text x="680">Thu 22/10/20</text><text x="780">Wed 4/11/20</text><text x="905">100%</text><rect class="tb" x="3305.25" y="-3" width="297.5" height="8"/><rect class="pg" x="3305.25" y="0" width="297.5" height="2.5"/><text class="lb" x="3611">Draw Rectangles using Qt</text></g>
<g transform="translate(0,2202.4)"><text class="id" x="172">74</text><use href="#md" x="237"/><text x="330">Draw Rectangles using OpenCV</text><text x="604">1 day?</text><text x="680">Thu 22/10/20</text><text x="780">Thu 22/10/20</text><text x="905">0%</text><rect class="tb" x="3305.25" y="-3" width="21.25" height="8"/><text class="lb" x="3334.5">Draw Rectangles using OpenCV</text></g>
<g transform="translate(0,2225.8)"><text class="id" x="172">75</text><use href="#md" x="237"/><text x="330">Draw the rectangle on a image</text><text x="604">1 day?</text><text x="680">Thu 22/10/20</text><text x="780">Thu 22/10/20</text><text x="905">0%</text><rect class="tb" x="3305.25" y="-3" width="21.25" height="8"/><text class="lb" x="3334.5">Draw the rectangle on a image</text></g>
<g transform="translate(0,2249.3)"><text class="id" x="172">76</text><use href="#md" x="237"/><text x="330">Draw the rectangle on a video</text><text x="604">1 day?</text><text x="680">Thu 22/10/20</text><text x="780">Thu 22/10/20</text><text x="905">0%</text><rect class="tb" x="3305.25" y="-3" width="21.25" height="8"/><text class="lb" x="3334.5">Draw the rectangle on a video</text></g>
<g transform="translate(0,2272.7)"><text class="id" x="172">77</text><use href="#md" x="237"/><text x="330">Develop a Media Player</text><text x="604">1 day?</text><text x="680">Thu 22/10/20</text><text x="780">Thu 22/10/20</text><text x="905">0%</text><rect class="tb" x="3305.25" y="-3" width="21.25" height="8"/><text class="lb" x="3334.5">Develop a Media Player</text></g>
<g class="B" transform="translate(0,2296.2)"><text class="id" x="172">78</text><use href="#md" x="237"/><text x="285">Phase 6 - Pelican Control Case</text><text x="604">10 days</text><text x="680">Thu 22/10/20</text><text x="780">Wed 4/11/20</text><text x="884">50</text><text x="905">0%</text><rect class="sb" x="3305.25" y="-3" width="297.5" height="3"/><rect class="sb" x="3305.25" y="-3" width="1.5" height="9"/><rect class="sb" x="3601.25" y="-3" width="1.5" height="9"/><text class="lb" x="3611">Phase 6 - Pelican Control Case</text></g>
<g transform="translate(0,2319.6)"><text class="id" x="172">79</text><use href="#md" x="237"/><text x="300">Monitors mount</text><text x="604">10 days</text><text x="680">Thu 22/10/20</text><text x="780">Wed 4/11/20</text><text x="905">0%</text><rect class="tb" x="3305.25" y="-3" width="297.5" height="8"/><text class="lb" x="3611">Monitors mount</text></g>
<g transform="translate(0,2343.1)"><text class="id" x="172">80</text><use href="#md" x="237"/><text x="300">Controls mount</text><text x="604">10 days</text><text x="680">Thu 22/10/20</text><text x="780">Wed 4/11/20</text><text x="905">0%</text><rect class="tb" x="3305.25" y="-3" width="297.5" height="8"/><text class="lb" x="3611">Controls mount</text></g>
<g class="B" transform="translate(0,2366.5)"><text class="id" x="172">81</text><use href="#md" x="237"/><text x="285">Phase 7 - Tensorflow Integration</text><text x="604">95 days</text><text x="680">Mon 20/07/20</text><text x="780">Fri 27/11/20</text><text x="905">0%</text><rect class="sb" x="1307.75" y="-3" width="2783.75" height="3"/><rect class="sb" x="1307.75" y="-3" width="1.5" height="9"/><rect class="sb" x="4090" y="-3" width="1.5" height="9"/><text class="lb" x="4099.5">Phase 7 - Tensorflow Integration</text></g>
<g transform="translate(0,2390)"><text class="id" x="172">82</text><use href="#cl" x="201"/><use href="#md" x="237"/><text x="300">Gather photos from welds</text><text x="604">65 days</text><text x="680">Mon 20/07/20</text><text x="780">Fri 16/10/20</text><text x="905">0%</text><rect class="tb" x="1307.75" y="-3" width="1891.25" height="8"/><text class="lb" x="3207">Gather photos from welds</text></g>
<g transform="translate(0,2413.4)"><text class="id" x="172">83</text><use href="#cl" x="201"/><use href="#md" x="237"/><text x="300">OpenCV Refresher course</text><text x="604">10 days</text><text x="680">Mon 7/09/20</text><text x="780">Fri 18/09/20</text><text x="884">35</text><text x="905">0%</text><rect class="tb" x="2349" y="-3" width="255" height="8"/><text class="lb" x="2612">OpenCV Refresher course</text></g>
<g class="B" transform="translate(0,2436.9)"><text class="id" x="172">84</text><use href="#md" x="237"/><text x="300">TensorFlow Courses</text><text x="604">20 days</text><text x="680">Mon 21/09/20</text><text x="780">Fri 16/10/20</text><text x="884">83</text><text x="905">0%</text><rect class="sb" x="2646.5" y="-3" width="552.5" height="3"/><rect class="sb" x="2646.5" y="-3" width="1.5" height="9"/><rect class="sb" x="3197.5" y="-3" width="1.5" height="9"/></g>
<g class="B" transform="translate(0,2460.3)"><text class="id" x="172">85</text><use href="#md" x="237"/><text x="315">Introduction to TensorFlow for Artificial</text><text x="315" y="23.45">Intelligence, Machine Learning, and Deep</text><text x="315" y="46.9">Learning</text><text x="604">10 days</text><text x="680">Mon 21/09/20</text><text x="780">Fri 2/10/20</text><text x="905">0%</text><rect class="sb" x="2646.5" y="-3" width="255" height="3"/><rect class="sb" x="2646.5" y="-3" width="1.5" height="9"/><rect class="sb" x="2900" y="-3" width="1.5" height="9"/></g>
<g transform="translate(0,2530.7)"><text class="id" x="172">86</text><use href="#md" x="237"/><text x="330">Week 1 - A New Programming Paradigm</text><text x="604">3 days</text><text x="680">Mon 21/09/20</text><text x="780">Wed 23/09/20</text><text x="905">0%</text><rect class="tb" x="2646.5" y="-3" width="63.75" height="8"/><text class="lb" x="2718">Week 1 - A New Programming Paradigm</text></g>
<g transform="translate(0,2554.1)"><text class="id" x="172">87</text><use href="#md" x="237"/><text x="330">Week 2 - Introduction to Computer Vision</text><text x="604">2 days</text><text x="680">Thu 24/09/20</text><text x="780">Fri 25/09/20</text><text x="884">86</text><text x="905">0%</text><rect class="tb" x="2710.25" y="-3" width="42.5" height="8"/><text class="lb" x="2760.75">Week 2 - Introduction to Computer Vision</text></g>
<g transform="translate(0,2577.6)"><text class="id" x="172">88</text><use href="#md" x="237"/><text x="330">Week 3 - Enhancing Vision with</text><text x="330" y="23.45">Convolutional Neural Networks</text><text x="604">3 days</text><text x="680">Mon 28/09/20</text><text x="780">Wed 30/09/20</text><text x="884">87</text><text x="905">0%</text><rect class="tb" x="2795.25" y="-3" width="63.75" height="8"/><text class="lb" x="2867">Week 3 - Enhancing Vision with Convolutional Neural Networks</text></g>
<g transform="translate(0,2624.5)"><text class="id" x="172">89</text><use href="#md" x="237"/><text x="330">Week 4 - Using Real-world Images</text><text x="604">2 days</text><text x="680">Thu 1/10/20</text><text x="780">Fri 2/10/20</text><text x="884">88</text><text x="905">0%</text><rect class="tb" x="2859" y="-3" width="42.5" height="8"/><text class="lb" x="2909.5">Week 4 - Using Real-world Images</text></g>
<g class="B" transform="translate(0,2647.9)"><text class="id" x="172">90</text><use href="#md" x="237"/><text x="315">Convolutional Neural Networks in TensorFlow</text><text x="604">10 days</text><text x="680">Mon 5/10/20</text><text x="780">Fri 16/10/20</text><text x="884">85</text><text x="905">0%</text><rect class="sb" x="2944" y="-3" width="255" height="3"/><rect class="sb" x="2944" y="-3" width="1.5" height="9"/><rect class="sb" x="3197.5" y="-3" width="1.5" height="9"/></g>
<g transform="translate(0,2694.8)"><text class="id" x="172">91</text><use href="#md" x="237"/><text x="330">Week 1 - Exploring a Larger Dataset</text><text x="604">3 days</text><text x="680">Mon 5/10/20</text><text x="780">Wed 7/10/20</text><text x="905">0%</text><rect class="tb" x="2944" y="-3" width="63.75" height="8"/><text class="lb" x="3015.75">Week 1 - Exploring a Larger Dataset</text></g>
<g transform="translate(0,2718.3)"><text class="id" x="172">92</text><use href="#md" x="237"/><text x="330">Week 2 - Augmentation: A technique to</text><text x="330" y="23.45">avoid overfitting</text><text x="604">2 days</text><text x="680">Thu 8/10/20</text><text x="780">Fri 9/10/20</text><text x="884">91</text><text x="905">0%</text><rect class="tb" x="3007.75" y="-3" width="42.5" height="8"/><text class="lb" x="3058.25">Week 2 - Augmentation: A technique to avoid overfitting</text></g>
<g transform="translate(0,2765.2)"><text class="id" x="172">93</text><use href="#md" x="237"/><text x="330">Week 3 - Transfer Learning</text><text x="604">3 days</text><text x="680">Mon 12/10/20</text><text x="780">Wed 14/10/20</text><text x="884">92</text><text x="905">0%</text><rect class="tb" x="3092.75" y="-3" width="63.75" height="8"/><text class="lb" x="3164.5">Week 3 - Transfer Learning</text></g>
<g transform="translate(0,2788.6)"><text class="id" x="172">94</text><use href="#md" x="237"/><text x="330">Week 4 - Multiclass Classifications</text><text x="604">2 days</text><text x="680">Thu 15/10/20</text><text x="780">Fri 16/10/20</text><text x="884">93</text><text x="905">0%</text><rect class="tb" x="3156.5" y="-3" width="42.5" height="8"/><text class="lb" x="3207">Week 4 - Multiclass Classifications</text></g>
<g transform="translate(0,2812.1)"><text class="id" x="172">95</text><use href="#md" x="237"/><text x="300">Model development</text><text x="604">10 days</text><text x="680">Mon 19/10/20</text><text x="780">Fri 30/10/20</text><text x="884">84</text><text x="905">0%</text><rect class="tb" x="3241.5" y="-3" width="255" height="8"/><text class="lb" x="3504.5">Model development</text></g>
<g transform="translate(0,2835.5)"><text class="id" x="172">96</text><use href="#md" x="237"/><text x="300">Training Model</text><text x="604">10 days</text><text x="680">Mon 2/11/20</text><text x="780">Fri 13/11/20</text><text x="884">95</text><text x="905">0%</text><rect class="tb" x="3539" y="-3" width="255" height="8"/><text class="lb" x="3802">Training Model</text></g>
<g transform="translate(0,2859)"><text class="id" x="172">97</text><use href="#md" x="237"/><text x="300">Integrate model with the motors</text><text x="604">10 days</text><text x="680">Mon 16/11/20</text><text x="780">Fri 27/11/20</text><text x="884">96</text><text x="905">0%</text><rect class="tb" x="3836.5" y="-3" width="255" height="8"/><text class="lb" x="4099.5">Integrate model with the motors</text></g>
<g class="B" transform="translate(0,2882.4)"><text class="id" x="172">98</text><use href="#md" x="237"/><text x="285">Tasks Not Scheduled</text><text x="604">49 days?</text><text x="680">Mon 13/07/20</text><text x="780">Thu 17/09/20</text><text x="905">0%</text><rect class="sb" x="1159" y="-3" width="1423.75" height="3"/><rect class="sb" x="1159" y="-3" width="1.5" height="9"/><rect class="sb" x="2581.25" y="-3" width="1.5" height="9"/><text class="lb" x="2591">Tasks Not Scheduled</text></g>
<g class="B" transform="translate(0,2905.9)"><text class="id" x="172">99</text><use href="#md" x="237"/><text x="300">Elements of Mechanical Design</text><text x="604">49 days?</text><text x="680">Mon 13/07/20</text><text x="780">Thu 17/09/20</text><text x="905">0%</text><rect class="sb" x="1159" y="-3" width="1423.75" height="3"/><rect class="sb" x="1159" y="-3" width="1.5" height="9"/><rect class="sb" x="2581.25" y="-3" width="1.5" height="9"/><text class="lb" x="2591">Elements of Mechanical Design</text></g>
<g transform="translate(0,2929.3)"><text class="id" x="172">100</text><use href="#md" x="237"/><text x="315">Robot Holders</text><text x="604">1 day?</text><text x="680">Mon 13/07/20</text><text x="780">Mon 13/07/20</text><text x="905">0%</text><rect class="tb" x="1159" y="-3" width="21.25" height="8"/><text class="lb" x="1188">Robot Holders</text></g>
<g transform="translate(0,2952.8)"><text class="id" x="172">101</text><use href="#md" x="237"/><text x="315">Safety Cable Hook</text><text x="604">1 day?</text><text x="680">Mon 13/07/20</text><text x="780">Mon 13/07/20</text><text x="905">0%</text><rect class="tb" x="1159" y="-3" width="21.25" height="8"/><text class="lb" x="1188">Safety Cable Hook</text></g>
<g transform="translate(0,2976.2)"><text class="id" x="172">102</text><use href="#md" x="237"/><text x="315">Frame for probeholders</text><text x="604">1 day?</text><text x="680">Mon 13/07/20</text><text x="780">Mon 13/07/20</text><text x="905">0%</text><rect class="tb" x="1159" y="-3" width="21.25" height="8"/><text class="lb" x="1188">Frame for probeholders</text></g>
<g class="B" transform="translate(0,2999.7)"><text class="id" x="172">103</text><use href="#md" x="237"/><text x="315">Probeholders</text><text x="604">1 day?</text><text x="680">Thu 17/09/20</text><text x="780">Thu 17/09/20</text><text x="884">48</text><text x="905">0%</text><rect fill="#d9534f" x="2561.5" y="-3" width="21.25" height="3"/><rect fill="#d9534f" x="2561.5" y="-3" width="1.5" height="9"/><rect fill="#d9534f" x="2581.25" y="-3" width="1.5" height="9"/><text class="lb" x="2591">Probeholders</text></g>
<g transform="translate(0,3023.1)"><text class="id" x="172">104</text><use href="#md" x="237"/><text x="330">ToFD</text><text x="604">1 day?</text><text x="680">Thu 17/09/20</text><text x="780">Thu 17/09/20</text><text x="905">0%</text><rect class="tb" x="2561.5" y="-3" width="21.25" height="8"/><text class="lb" x="2591">ToFD</text></g>
<g transform="translate(0,3046.6)"><text class="id" x="172">105</text><use href="#md" x="237"/><text x="330">Corrosion</text><text x="604">1 day?</text><text x="680">Thu 17/09/20</text><text x="780">Thu 17/09/20</text><text x="905">0%</text><rect class="tb" x="2561.5" y="-3" width="21.25" height="8"/><text class="lb" x="2591">Corrosion</text></g>
<g transform="translate(0,3070)"><text class="id" x="172">106</text><use href="#md" x="237"/><text x="330">Phased Array</text><text x="604">1 day?</text><text x="680">Thu 17/09/20</text><text x="780">Thu 17/09/20</text><text x="905">0%</text><rect class="tb" x="2561.5" y="-3" width="21.25" height="8"/><text class="lb" x="2591">Phased Array</text></g>
<g transform="translate(0,3093.5)"><text class="id" x="172">107</text><use href="#md" x="237"/><text x="315">Corrosion Arm</text><text x="604">1 day?</text><text x="680">Mon 13/07/20</text><text x="780">Mon 13/07/20</text><text x="905">0%</text><rect class="tb" x="1159" y="-3" width="21.25" height="8"/><text class="lb" x="1188">Corrosion Arm</text></g>

<!-- legend -->
<text class="lg" x="150" y="3289">Project: Mobile Robot</text>
<text class="lg" x="150" y="3309">Date: Mon 10/08/20</text>
<g>
<text class="lg" x="367" y="3289">Task</text><rect x="482" y="3283" width="98" height="10" fill="#8db9e8"/>
<text class="lg" x="593" y="3289">Milestone</text><path d="M719 3284 l4 5 l-4 5 l-4 -5z" fill="#555"/>
<text class="lg" x="824" y="3289">Project Summary</text><path d="M954 3292 V3284 H1045 V3292" stroke="#aaa" stroke-width="3" fill="none"/>
<text class="lg" x="1061" y="3289">Inactive Milestone</text><path d="M1185 3284 l4 5 l-4 5 l-4 -5z" fill="#ddd"/>
<text class="lg" x="1293" y="3289">Manual Task</text><rect x="1423" y="3282" width="90" height="12" fill="#76cdd3"/>
<text class="lg" x="1528" y="3289">Manual Summary Rollup</text><rect x="1652" y="3287" width="100" height="5" fill="#2f9d9d"/>
<text class="lg" x="1760" y="3289">Start-only</text><path d="M1888 3283 h-3 v12 h3" stroke="#2f7d9d" fill="none"/>
<text class="lg" x="1997" y="3289">External Tasks</text><rect x="2124" y="3282" width="95" height="12" fill="#c8c8c8"/>
<text class="lg" x="2232" y="3289">Deadline</text><path d="M2358 3282 v10 m-3 -3 l3 4 l3 -4" stroke="#6ab04c" fill="none"/>
<text class="lg" x="2463" y="3289">Critical Split</text><path d="M2593 3289 H2686" stroke="#f28b8b" stroke-width="4" stroke-dasharray="1 7" fill="none"/>
<text class="lg" x="2700" y="3289">Manual Progress</text><rect x="2826" y="3286" width="97" height="5" fill="#2f9d9d"/>
<text class="lg" x="356" y="3311">Split</text><path d="M482 3311 H580" stroke="#3d7cc9" stroke-width="3" stroke-dasharray="1 5" fill="none"/>
<text class="lg" x="593" y="3311">Summary</text><path d="M719 3318 V3306 H815 V3318" stroke="#4d4d4d" stroke-width="3" fill="none"/>
<text class="lg" x="828" y="3311">Inactive Task</text><rect x="954" y="3306" width="95" height="10" fill="#fff" stroke="#ddd"/>
<text class="lg" x="1065" y="3311">Inactive Summary</text><rect x="1189" y="3306" width="95" height="10" fill="#fff" stroke="#ddd"/>
<text class="lg" x="1297" y="3311">Duration-only</text><rect x="1423" y="3304" width="90" height="12" fill="#76cdd3"/>
<text class="lg" x="1528" y="3311">Manual Summary</text><path d="M1657 3318 V3306 H1752 V3318" stroke="#555" stroke-width="3" fill="none"/>
<text class="lg" x="1760" y="3311">Finish-only</text><path d="M1888 3305 h3 v12 h-3" stroke="#2f7d9d" fill="none"/>
<text class="lg" x="1997" y="3311">External Milestone</text><path d="M2128 3306 l4 5 l-4 5 l-4 -5z" fill="#bbb"/>
<text class="lg" x="2235" y="3311">Critical</text><rect x="2358" y="3304" width="96" height="12" fill="#f28b8b"/>
<text class="lg" x="2467" y="3311">Progress</text><rect x="2593" y="3308" width="97" height="4" fill="#3d7cc9"/>
</g>
<text class="lg" x="2465" y="3344">Page 1</text>
</svg>
</body></html>
